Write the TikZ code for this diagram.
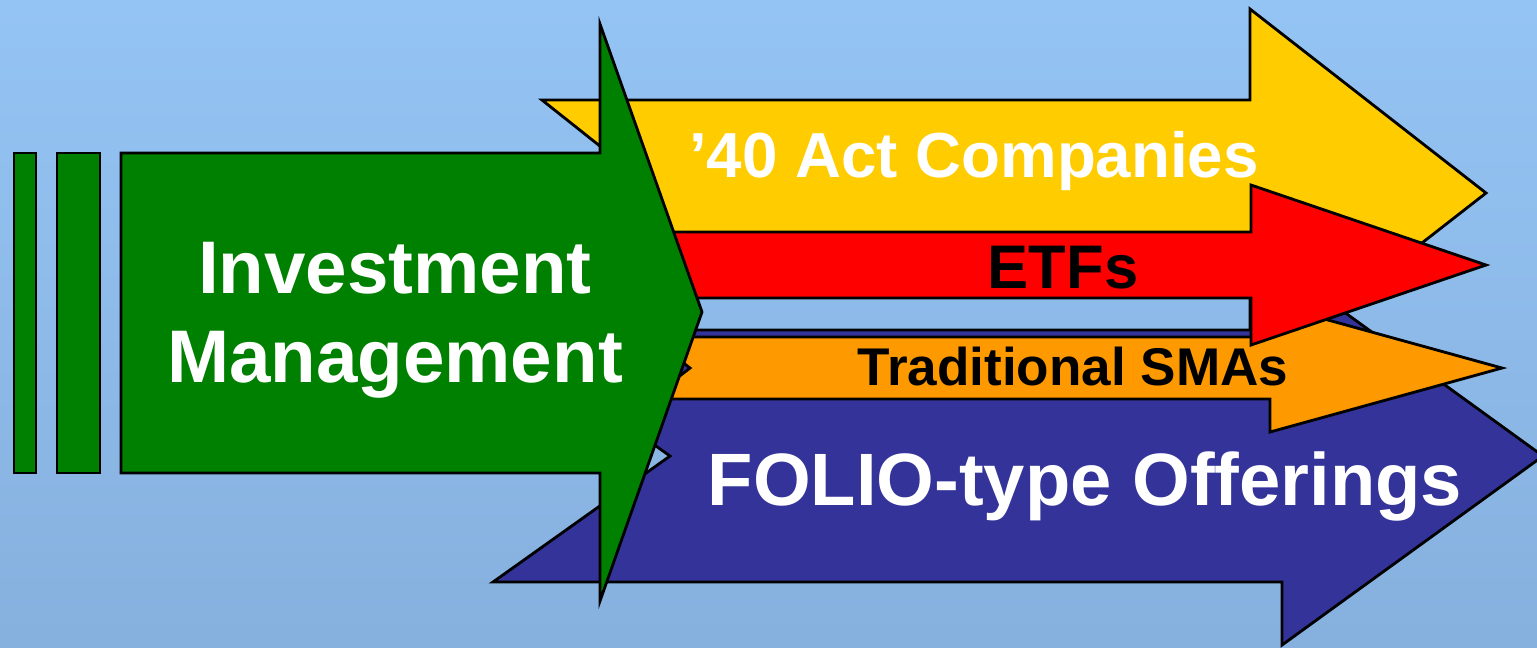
\documentclass[tikz,border=0pt]{standalone}
\usepackage{fontspec}
\setmainfont{Liberation Sans}
\usetikzlibrary{positioning}
\definecolor{bgtop}{RGB}{148,196,244}
\definecolor{bgbottom}{RGB}{134,176,222}
\definecolor{imgreen}{RGB}{0,128,0}
\definecolor{actyellow}{RGB}{255,204,0}
\definecolor{etfred}{RGB}{255,0,0}
\definecolor{smaorange}{RGB}{255,153,0}
\definecolor{folioblue}{RGB}{51,51,153}
\tikzstyle{block} = [draw=black, line width=0.8pt, line join=miter]
\tikzstyle{caption} = [anchor=base, inner sep=0pt, font=\bfseries]

\begin{document}
\begin{tikzpicture}[x=0.01cm, y=-0.01cm]
        \useasboundingbox (0,0) rectangle (1537,647);
        \clip (0,0) rectangle (1537,647);
        \shade[top color=bgtop, bottom color=bgbottom] (0,0) rectangle (1537,647);

        % product arrows, back to front
        \filldraw[block, fill=actyellow] (542,100) -- (1250,100) -- (1250,9) -- (1486,193) -- (1250,377) -- (1250,286) -- (542,286) -- (659,193) -- cycle;
        \filldraw[block, fill=folioblue] (493,330) -- (1282,330) -- (1282,267) -- (1543,456) -- (1282,645) -- (1282,582) -- (493,582) -- (670,456) -- cycle;
        \filldraw[block, fill=smaorange] (650,337) -- (1270,337) -- (1270,304) -- (1502,368) -- (1270,432) -- (1270,399) -- (650,399) -- (690,368) -- cycle;
        \filldraw[block, fill=etfred] (640,232) -- (1251,232) -- (1251,185) -- (1486,265) -- (1251,345) -- (1251,298) -- (640,298) -- cycle;

        % investment management arrow
        \filldraw[block, fill=imgreen] (14,153) rectangle (36,473);
        \filldraw[block, fill=imgreen] (57,153) rectangle (100,473);
        \filldraw[block, fill=imgreen] (121,153) -- (600,153) -- (600,24) -- (702,312) -- (600,601) -- (600,473) -- (121,473) -- cycle;

        \node[caption, text=white, align=center, font=\bfseries\fontsize{21.2}{25.3}\selectfont] (IM) at (395,382) {Investment\\Management};
        \node[caption, text=white, font=\bfseries\fontsize{18.1}{21}\selectfont] (ACT) at (974,177) {’40 Act Companies};
        \node[caption, text=black, font=\bfseries\fontsize{17.5}{21}\selectfont] (ETF) at (1063,288) {ETFs};
        \node[caption, text=black, font=\bfseries\fontsize{15.1}{18}\selectfont] (SMA) at (1073,385) {Traditional SMAs};
        \node[caption, text=white, font=\bfseries\fontsize{21.1}{25}\selectfont] (FOLIO) at (1085,505) {FOLIO-type Offerings};
\end{tikzpicture}
\end{document}
